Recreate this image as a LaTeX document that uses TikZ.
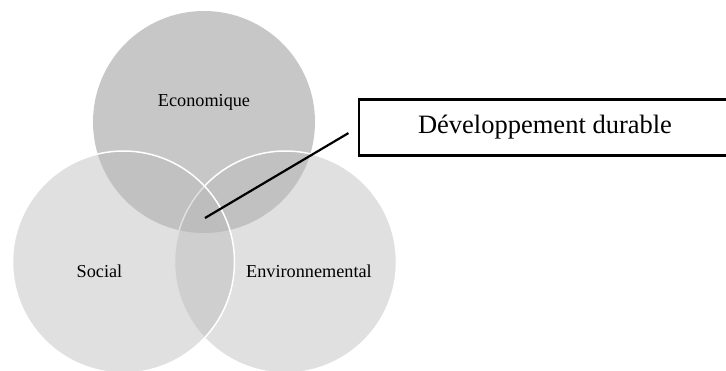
\documentclass[tikz,border=0pt]{standalone}
\usepackage{fontspec}
\setmainfont{Liberation Serif}
\tikzset{
  >=latex,
  ring/.style={draw=white,line width=1.5bp,fill=black!27,fill opacity=.45},
}
\tikzstyle{every node}=[font=\fontsize{18.3}{20}\selectfont]

\begin{document}
\begin{tikzpicture}[x=1bp,y=-1bp]
    \clip (0,0) rectangle (726,370);
    \fill[black!22] (204,122) circle[radius=111bp];
    \filldraw[ring] (285.5,262) circle[radius=111bp];
    \filldraw[ring] (123.5,262) circle[radius=111bp];
    \node[anchor=base] (eco) at (204,106) {Economique};
    \node[anchor=base] (soc) at (99.5,277) {Social};
    \node[anchor=base] (env) at (309,277) {Environnemental};
    \node[draw,line width=2.2bp,minimum width=372bp,minimum height=56bp,
      font=\fontsize{26.6}{30}\selectfont] (dd) at (545,127.5) {Développement durable};
    \coordinate (mid) at (205,218);
    \draw[line width=2.2bp,shorten >=11bp] (mid) -- (dd.west);
\end{tikzpicture}
\end{document}
